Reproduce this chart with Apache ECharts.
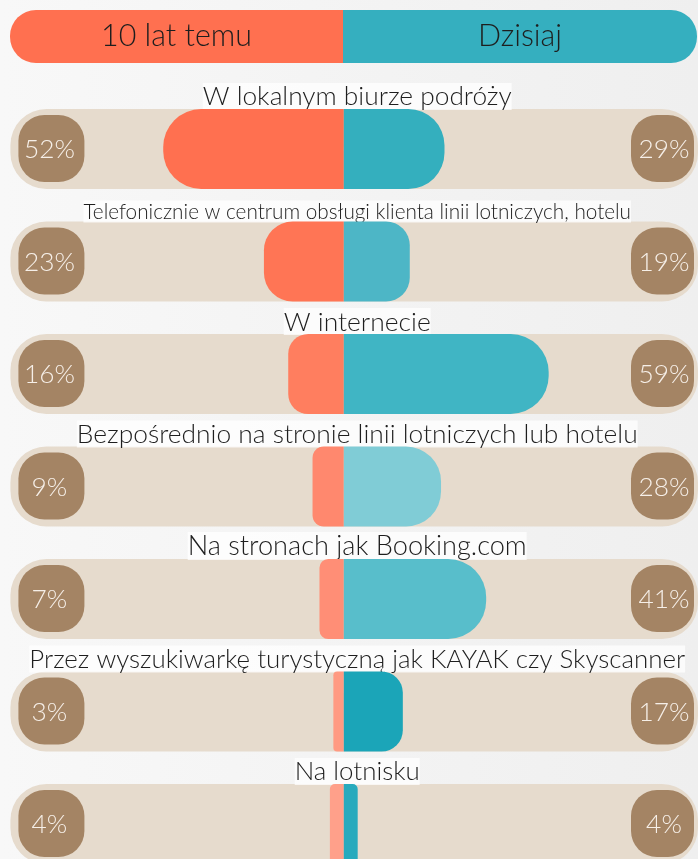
<!DOCTYPE html>
<html>
<head>
<meta charset="utf-8">
<script src="https://cdn.jsdelivr.net/npm/echarts@6/dist/echarts.min.js"></script>
<style>
html, body { margin: 0; padding: 0; }
#main { width: 698px; height: 859px; }
</style>
</head>
<body>
<div id="main"></div>
<script>
var categories = [
    'W lokalnym biurze podróży',
    'Telefonicznie w centrum obsługi klienta linii lotniczych, hotelu',
    'W internecie',
    'Bezpośrednio na stronie linii lotniczych lub hotelu',
    'Na stronach jak Booking.com',
    'Przez wyszukiwarkę turystyczną jak KAYAK czy Skyscanner',
    'Na lotnisku'
];
var seriesNames = ['10 lat temu', 'Dzisiaj'];
var before = [52, 23, 16, 9, 7, 3, 4];
var today = [29, 19, 59, 28, 41, 17, 4];

// styles
var beforeColors = ['#ff7050', '#ff7555', '#ff7e5f', '#ff886e', '#ff8e76', '#ff9a82', '#ffa08a'];
var todayColors = ['#34afbe', '#4db6c6', '#40b5c4', '#80ccd6', '#58becb', '#1ba5b8', '#27aabd'];
var labelWidths = [309, 548, 147, 561, 339, 656, 125];   // text widths
var thinFont = 'Lato, Roboto, "Liberation Sans", sans-serif';
var thinWeight = 300;

var xMin = -99, xMax = 102;
var pxPerUnit = 698 / (xMax - xMin);

var ctx = document.createElement('canvas').getContext('2d');
function fitSize(text, width) {
    ctx.font = thinWeight + ' 100px ' + thinFont;
    return 100 * width / ctx.measureText(text).width;
}
function font(size) {
    return thinWeight + ' ' + size.toFixed(2) + 'px ' + thinFont;
}
var pctSize = fitSize('52%', 51);
var headSize = fitSize(seriesNames[0], 151);

function radius(v) {
    return Math.min(v * pxPerUnit * 0.36, 38);
}

function renderTrack(params, api) {
    var i = params.dataIndex;
    var l = api.coord([-96, i]);
    var r = api.coord([102, i]);
    var h = 80;
    var y = l[1] - h / 2;
    var mid = (l[0] + r[0]) / 2 + 3;
    var size = fitSize(categories[i], labelWidths[i]);
    return {
        type: 'group',
        children: [
            { type: 'rect', shape: { x: l[0], y: y, width: r[0] - l[0], height: h, r: 36 },
              style: { fill: '#e6dbcd' } },
            { type: 'rect', shape: { x: l[0] + 8, y: y + 6, width: 66, height: 67, r: 26 },
              style: { fill: '#a48464' } },
            { type: 'rect', shape: { x: r[0] - 67, y: y + 6, width: 63, height: 67, r: 26 },
              style: { fill: '#a48464' } },
            { type: 'text', style: { text: before[i] + '%', x: l[0] + 39, y: l[1] + 1,
              align: 'center', verticalAlign: 'middle', fill: '#f6efe8', font: font(pctSize) } },
            { type: 'text', style: { text: today[i] + '%', x: r[0] - 34, y: l[1] + 1,
              align: 'center', verticalAlign: 'middle', fill: '#f6efe8', font: font(pctSize) } },
            { type: 'text', z2: 5, style: { text: categories[i], x: mid, y: y + 1,
              align: 'center', verticalAlign: 'bottom', fill: '#1e1e1e', font: font(size),
              backgroundColor: 'rgba(255,255,255,0.75)', padding: [1, 0, 0, 0] } }
        ]
    };
}

var myChart = echarts.init(document.getElementById('main'));
var option = {
    animation: false,
    backgroundColor: new echarts.graphic.LinearGradient(0, 0, 1, 0, [
        { offset: 0, color: '#f8f8f8' },
        { offset: 1, color: '#efefef' }
    ]),
    grid: { left: 0, right: 0, top: 149, bottom: 35 },
    xAxis: { type: 'value', min: xMin, max: xMax, show: false, splitLine: { show: false } },
    yAxis: { type: 'category', data: categories, inverse: true, boundaryGap: false, show: false },
    graphic: [
        { type: 'rect', left: 10, top: 10, shape: { width: 333, height: 53, r: [26, 0, 0, 26] },
          style: { fill: '#ff7050' },
          textContent: { style: { text: seriesNames[0], fill: '#1e1e1e', font: font(headSize) } },
          textConfig: { position: 'inside' } },
        { type: 'rect', left: 343, top: 10, shape: { width: 354, height: 53, r: [0, 26, 26, 0] },
          style: { fill: '#35afbf' },
          textContent: { style: { text: seriesNames[1], fill: '#1e1e1e', font: font(headSize) } },
          textConfig: { position: 'inside' } }
    ],
    series: [
        {
            type: 'custom',
            z: 1,
            clip: false,
            renderItem: renderTrack,
            encode: { x: 0, y: 1 },
            data: categories.map(function (c, i) { return [0, i]; })
        },
        {
            name: seriesNames[0],
            type: 'bar',
            z: 2,
            clip: false,
            barWidth: 80,
            barGap: '-100%',
            data: before.map(function (v, i) {
                var r = radius(v);
                return { value: -v, itemStyle: { color: beforeColors[i], borderRadius: [r, 0, 0, r] } };
            })
        },
        {
            name: seriesNames[1],
            type: 'bar',
            z: 2,
            clip: false,
            barWidth: 80,
            barGap: '-100%',
            data: today.map(function (v, i) {
                var r = radius(v);
                return { value: v, itemStyle: { color: todayColors[i], borderRadius: [0, r, r, 0] } };
            })
        }
    ]
};
myChart.setOption(option);
</script>
</body>
</html>
